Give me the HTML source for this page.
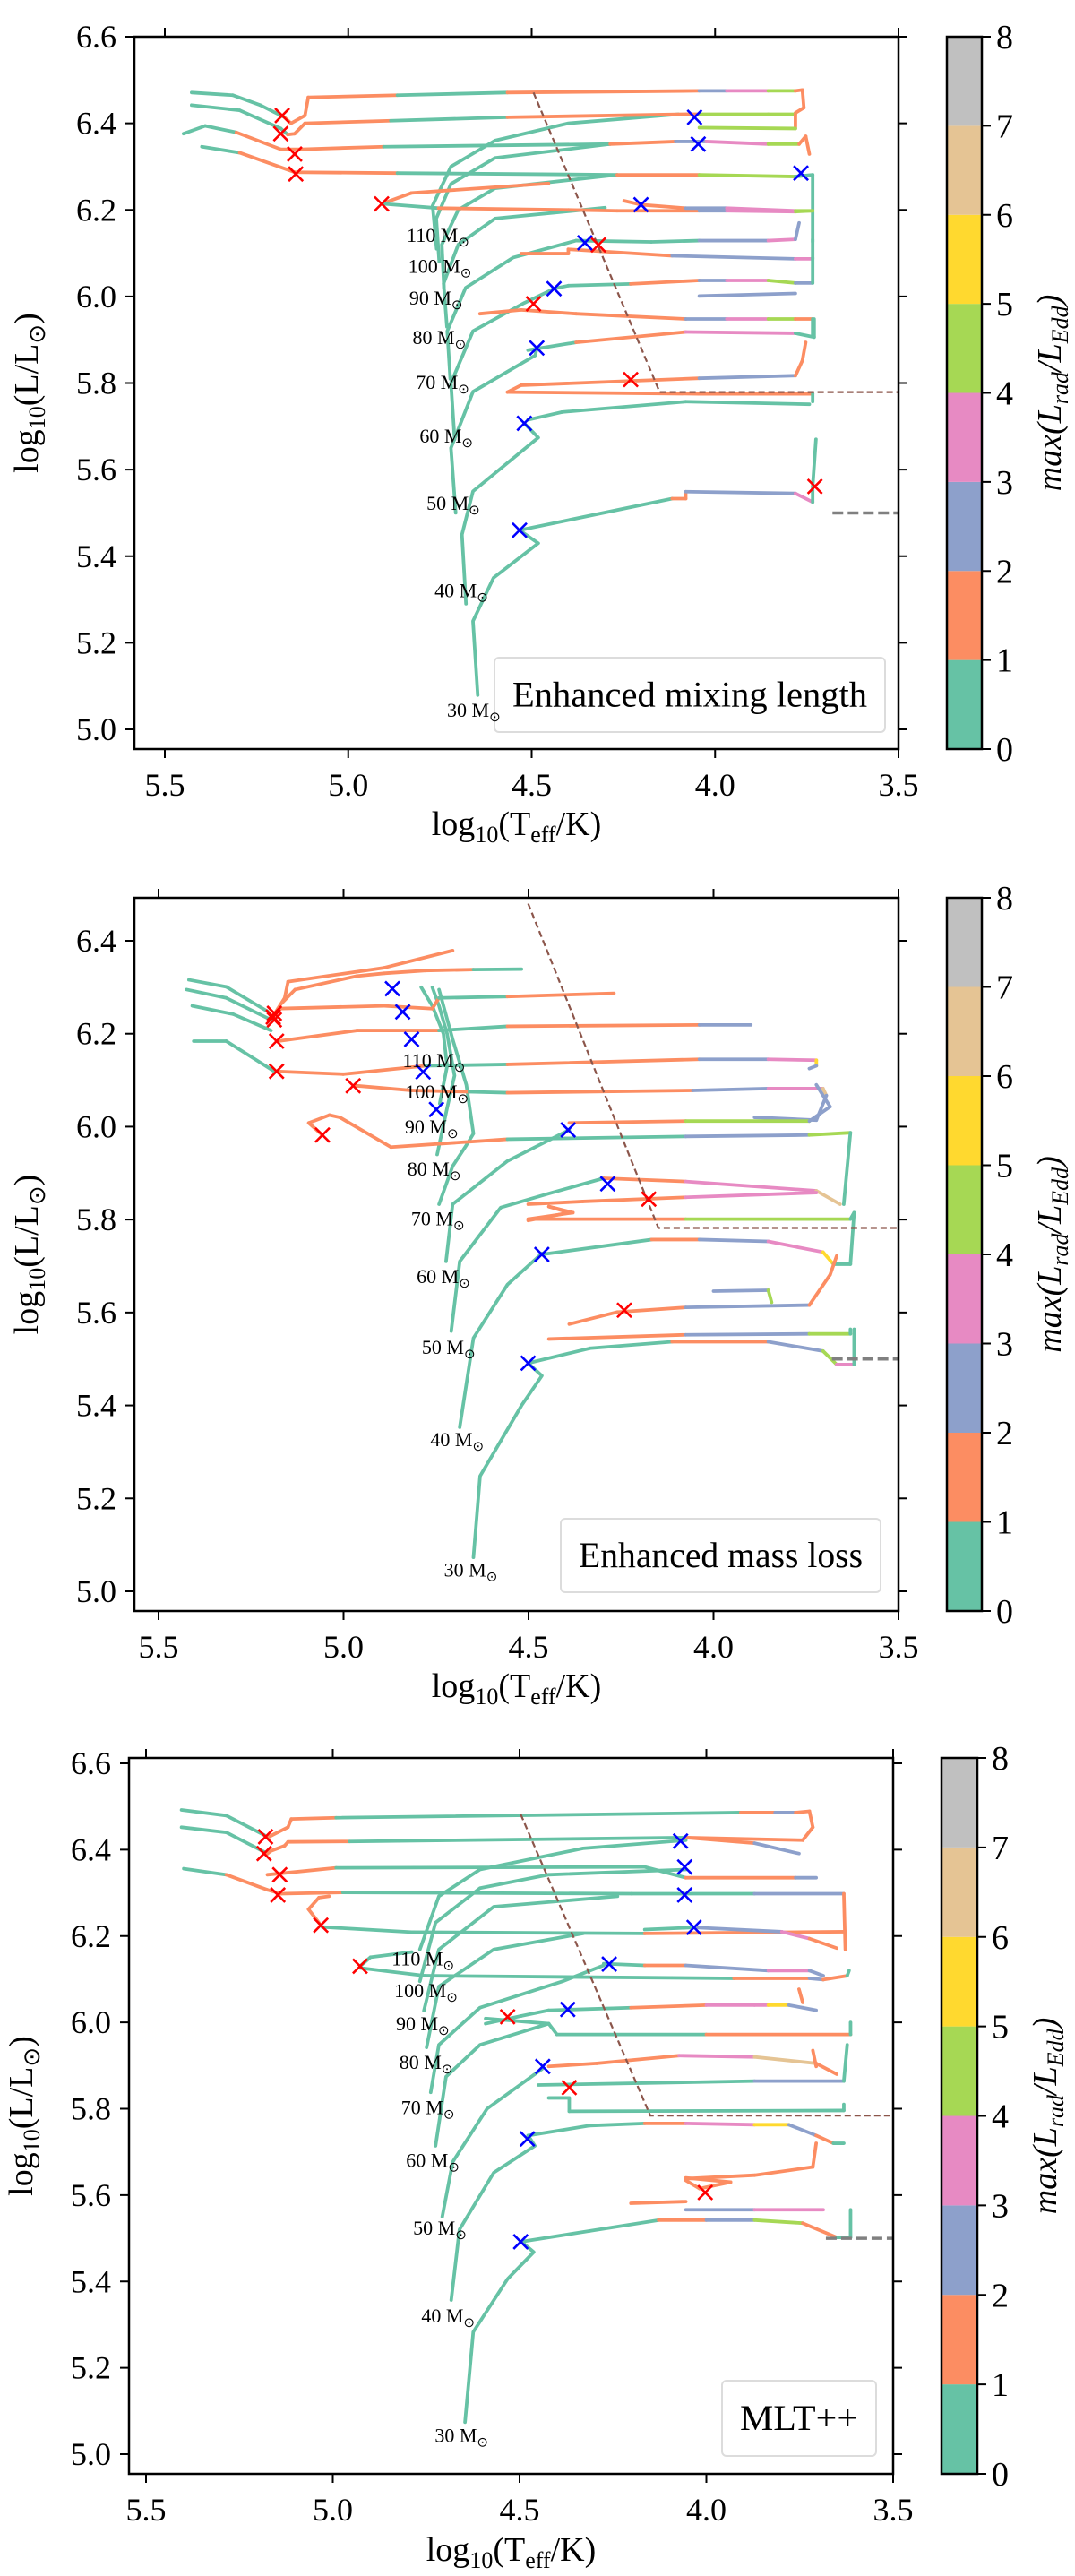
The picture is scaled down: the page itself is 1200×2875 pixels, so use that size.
<!DOCTYPE html>
<html><head><meta charset="utf-8"><style>
html,body{margin:0;padding:0;background:#fff;}
svg{display:block;font-family:"Liberation Serif",serif;}
</style></head><body>
<svg id="fig" width="1200" height="2875" viewBox="0 0 1200 2875" xmlns="http://www.w3.org/2000/svg"></svg>
<script>
const COLORS = ["#66c2a5","#fc8d62","#8da0cb","#e78ac3","#a6d854","#ffd92f","#e5c494","#c0c0c0"];
const CB_TICKS = [0,1,2,3,4,5,6,7,8];
const X_TICKS = [5.5,5.0,4.5,4.0,3.5];
const MASS_NAMES = ["110","100","90","80","70","60","50","40","30"];
const P1_Y_TICKS = [5.0,5.2,5.4,5.6,5.8,6.0,6.2,6.4,6.6];
const P2_Y_TICKS = [5.0,5.2,5.4,5.6,5.8,6.0,6.2,6.4];
const P3_Y_TICKS = [5.0,5.2,5.4,5.6,5.8,6.0,6.2,6.4,6.6];

/* ---------- Panel 1: Enhanced mixing length ---------- */
const P1_TRACK_T = [
[5.427,5.315,5.24,5.174,5.156,5.118,5.109,4.866,4.566,4.043,3.968,3.855,3.781,3.762,3.758,3.781],
[5.427,5.296,5.184,5.165,5.146,5.118,4.884,4.566,4.08,4.043,3.855,3.781,3.781,4.043],
[5.449,5.39,5.305,5.184,5.128,4.903,4.286,4.108,4.024,3.855,3.771,3.753,3.743],
[5.399,5.296,5.146,4.866,4.267,4.043,3.781,3.734,3.734],
[4.909,4.828,4.454],
[4.903,4.754,4.4,4.267,4.043,3.968,3.781,3.734],
[4.248,4.202,4.08,3.968,3.781,3.734],
[4.379,4.174,4.043,3.855,3.781,3.771],
[4.529,4.4,4.4,4.117,3.781,3.734,3.734],
[4.439,4.4,4.23,4.043,3.968,3.855,3.781,3.734,3.734],
[4.043,3.781],
[4.641,4.529,4.379,4.08,3.968,3.855,3.781,3.734,3.734],
[4.51,4.379,4.08,3.781,3.73,3.73],
[4.566,4.529,4.043,3.781,3.762,3.753],
[4.566,4.043,3.734,3.734],
[4.51,4.417,4.08,3.743],
[4.533,4.117,4.08,4.08,3.781,3.734,3.734,3.725]];
const P1_TRACK_L = [
[6.471,6.465,6.442,6.414,6.4,6.418,6.46,6.465,6.471,6.475,6.475,6.475,6.475,6.477,6.436,6.424],
[6.442,6.43,6.388,6.374,6.376,6.4,6.406,6.414,6.421,6.421,6.421,6.421,6.388,6.390],
[6.376,6.394,6.379,6.340,6.340,6.346,6.352,6.358,6.358,6.352,6.352,6.37,6.329],
[6.346,6.332,6.287,6.285,6.281,6.281,6.277,6.281,6.126],
[6.214,6.239,6.261],
[6.214,6.204,6.2,6.198,6.198,6.198,6.196,6.198],
[6.221,6.212,6.204,6.204,6.198,6.198],
[6.129,6.126,6.129,6.129,6.132,6.17],
[6.099,6.099,6.109,6.094,6.087,6.087,6.132],
[6.018,6.025,6.029,6.037,6.037,6.037,6.031,6.031,6.09],
[6.001,6.007],
[5.96,5.969,5.96,5.948,5.948,5.948,5.948,5.948,5.91],
[5.876,5.894,5.918,5.915,5.906,5.948],
[5.779,5.795,5.811,5.817,5.852,5.894],
[5.779,5.775,5.775,5.757],
[5.715,5.733,5.757,5.751],
[5.46,5.533,5.533,5.549,5.545,5.525,5.561,5.67]];
const P1_TRACK_C = [
[0,0,0,1,1,1,1,0,1,2,3,4,1,1,1],
[0,0,0,1,1,1,0,1,1,4,4,1,4],
[0,0,1,1,1,0,1,2,3,4,1,1],
[0,1,1,0,1,4,0,0],
[1,1],
[0,1,1,1,2,3,4],
[1,1,2,3,4],
[0,0,2,3,2],
[1,1,1,2,3,0],
[0,0,1,2,3,4,2,0],
[2],
[1,1,1,2,3,4,1,0],
[0,1,3,0,0],
[1,1,2,1,1],
[1,1,0],
[0,0,0],
[0,1,1,2,3,0,0]];
const P1_MS_T = [
[4.647,4.66,4.604,4.482,4.533],
[4.679,4.69,4.66,4.482,4.52],
[4.707,4.72,4.66,4.49,4.486],
[4.71,4.72,4.66,4.52,4.439],
[4.722,4.73,4.68,4.55,4.379],
[4.731,4.74,4.70,4.60,4.30],
[4.739,4.745,4.70,4.60,4.267],
[4.752,4.76,4.72,4.60,4.286],
[4.759,4.77,4.72,4.60,4.40,4.10]];
const P1_MS_L = [
[5.079,5.25,5.35,5.43,5.46],
[5.29,5.45,5.55,5.674,5.707],
[5.50,5.65,5.78,5.864,5.881],
[5.67,5.80,5.92,5.985,6.018],
[5.81,5.92,6.02,6.09,6.129],
[5.93,6.03,6.12,6.18,6.205],
[6.02,6.12,6.20,6.25,6.281],
[6.08,6.18,6.26,6.32,6.352],
[6.11,6.21,6.30,6.36,6.40,6.421]];
const P1_RED_T = [5.18,5.184,5.146,5.143,4.909,4.318,4.495,4.23,3.728];
const P1_RED_L = [6.418,6.376,6.329,6.283,6.214,6.119,5.983,5.808,5.561];
const P1_BLUE_T = [4.056,4.046,3.766,4.202,4.355,4.439,4.486,4.52,4.533];
const P1_BLUE_L = [6.414,6.352,6.285,6.212,6.124,6.018,5.881,5.707,5.46];
const P1_LABEL_T = [4.67,4.664,4.688,4.679,4.67,4.66,4.641,4.619,4.585];
const P1_LABEL_L = [6.126,6.055,5.981,5.890,5.787,5.662,5.507,5.305,5.029];
const P1_DASH_T = [4.495,4.151,3.5];
const P1_DASH_L = [6.471,5.779,5.779];

/* ---------- Panel 2: Enhanced mass loss ---------- */
const P2_TRACK_T = [
[5.418,5.317,5.205],
[5.424,5.317,5.196],
[5.409,5.298,5.196],
[5.405,5.317,5.187],
[5.187,5.159,5.150,4.890,4.705],
[5.168,5.131,4.964,4.890,4.779,4.649,4.519],
[5.177,4.890,4.760,4.742,4.557,4.269],
[5.177,4.964,4.742,4.557,4.038,3.899],
[5.181,5.001,4.779,4.557,4.038,3.852,3.722,3.722,3.741],
[4.964,4.816,4.66,4.557,4.056,3.852,3.704,3.695,3.722,3.889],
[5.057,5.094,5.038,5.01,4.872,4.557,4.075,3.741,3.630,3.648],
[4.390,4.075,3.741,3.685,3.722],
[4.297,4.075,3.722,3.658],
[4.501,4.353,4.075,3.722],
[4.501,4.390,4.445,4.38,4.501,4.075,3.630,3.620,3.630],
[4.464,4.167,4.038,3.852,3.704,3.676,3.630],
[4.000,3.852,3.843],
[4.39,4.26,4.075,3.741,3.685,3.667],
[4.445,4.075,3.741,3.630,3.630],
[4.501,4.334,4.112,3.852,3.704,3.667,3.620,3.620]];
const P2_TRACK_L = [
[6.316,6.301,6.248],
[6.295,6.277,6.230],
[6.260,6.242,6.207],
[6.184,6.184,6.119],
[6.242,6.277,6.312,6.342,6.379],
[6.265,6.295,6.324,6.330,6.336,6.338,6.339],
[6.254,6.26,6.254,6.277,6.280,6.287],
[6.184,6.207,6.207,6.216,6.219,6.219],
[6.119,6.113,6.131,6.134,6.145,6.145,6.143,6.131,6.125],
[6.088,6.078,6.075,6.073,6.078,6.082,6.082,6.067,6.014,6.02],
[5.982,6.008,6.025,6.020,5.956,5.973,5.979,5.982,5.987,5.833],
[6.008,6.012,6.012,6.043,6.090],
[5.889,5.882,5.862,5.833],
[5.833,5.839,5.848,5.858],
[5.798,5.815,5.828,5.815,5.801,5.801,5.801,5.815,5.704],
[5.725,5.757,5.757,5.753,5.730,5.704,5.704],
[5.646,5.648,5.622],
[5.575,5.601,5.611,5.616,5.681,5.722],
[5.543,5.552,5.554,5.554,5.564],
[5.491,5.523,5.537,5.537,5.517,5.488,5.488,5.564]];
const P2_TRACK_C = [
[0,0],[0,0],[0,0],[0,0],
[1,1,1,1],
[1,1,1,1,1,0],
[1,1,1,0,1],
[1,1,0,1,2],
[1,1,0,1,2,3,5,2],
[1,1,0,1,2,3,6,2,2],
[1,1,1,1,1,0,2,4,0],
[1,4,2,2],
[1,3,6],
[1,1,3],
[1,1,1,1,1,4,0,0],
[0,1,2,3,5,0],
[2,4],
[1,1,2,1,1],
[1,2,4,0],
[0,0,1,2,4,3,0]];
const P2_MS_T = [
[4.649,4.631,4.519,4.464,4.501],
[4.686,4.649,4.557,4.464],
[4.709,4.686,4.575,4.445,4.297],
[4.723,4.705,4.557,4.390],
[4.742,4.705,4.668,4.649,4.668,4.705,4.742],
[4.747,4.72,4.70,4.72,4.742,4.760],
[4.74,4.72,4.73,4.76,4.79]];
const P2_MS_L = [
[5.073,5.248,5.40,5.464,5.491],
[5.353,5.545,5.66,5.727],
[5.560,5.71,5.826,5.856,5.889],
[5.71,5.833,5.926,5.993],
[5.833,5.915,5.96,5.985,6.090,6.188,6.295],
[5.94,6.04,6.11,6.2,6.26,6.30],
[6.05,6.13,6.20,6.26,6.30]];
const P2_RED_T = [5.187,5.19,5.187,5.181,5.181,4.974,5.057,4.241,4.175];
const P2_RED_L = [6.244,6.236,6.230,6.184,6.119,6.088,5.982,5.605,5.844];
const P2_BLUE_T = [4.868,4.840,4.816,4.785,4.749,4.393,4.286,4.464,4.501];
const P2_BLUE_L = [6.297,6.247,6.188,6.118,6.037,5.993,5.877,5.725,5.491];
const P2_LABEL_T = [4.671,4.662,4.69,4.683,4.673,4.658,4.644,4.621,4.584];
const P2_LABEL_L = [6.128,6.061,5.985,5.895,5.788,5.663,5.511,5.312,5.032];
const P2_DASH_T = [4.501,4.149,3.5];
const P2_DASH_L = [6.48,5.782,5.782];

/* ---------- Panel 3: MLT++ ---------- */
const P3_TRACK_T = [
[5.405,5.285,5.184,5.175,5.12,5.111,4.991,3.908,3.816,3.761,3.724,3.715,3.742,4.055],
[5.405,5.285,5.175,5.166,5.129,5.120,4.955,4.055,3.871,3.752],
[5.399,5.285,5.175,5.138,4.973,4.2,3.871,3.632,3.628],
[5.175,4.991,4.165,4.055,3.761,3.706],
[5.032,5.065,5.037,5.010],
[5.028,4.789,4.165,3.628],
[4.165,4.033,3.798,3.724,3.651],
[4.927,4.899,4.789],
[4.927,4.753,3.926,3.724,3.687,3.623,3.618],
[4.275,4.165,4.055,3.834,3.724,3.687],
[4.591,4.495,4.422,4.202,4.0,3.871,3.834,3.779,3.742,3.706],
[3.752,3.742],
[4.591,4.422,4.4,4.0,3.614,3.614],
[4.422,4.293,4.073,3.871,3.706,3.651],
[3.715,3.706],
[4.450,3.871,3.632,3.623],
[4.422,4.367,4.367,3.632,3.632],
[4.477,4.312,4.165,4.055,3.871,3.779,3.706,3.66,3.632],
[4.055,3.935,4.018,4.055],
[4.202,4.055],
[4.055,3.871,3.687],
[3.706,3.715,3.871,4.055],
[4.495,4.312,4.128,4.0,3.871,3.742,3.651,3.614,3.614]];
const P3_TRACK_L = [
[6.492,6.479,6.434,6.428,6.452,6.471,6.474,6.486,6.486,6.486,6.489,6.452,6.422,6.428],
[6.452,6.440,6.391,6.397,6.409,6.418,6.419,6.428,6.415,6.391],
[6.356,6.342,6.307,6.298,6.301,6.298,6.298,6.298,6.169],
[6.342,6.358,6.36,6.335,6.335,6.335],
[6.225,6.262,6.289,6.292],
[6.221,6.209,6.206,6.21],
[6.215,6.22,6.21,6.194,6.172],
[6.13,6.151,6.163],
[6.126,6.108,6.102,6.102,6.099,6.108,6.12],
[6.136,6.132,6.132,6.12,6.120,6.108],
[5.997,6.015,6.028,6.034,6.040,6.040,6.040,6.040,6.034,6.028],
[6.077,6.046],
[6.009,5.997,5.972,5.972,5.972,6.0],
[5.898,5.905,5.923,5.92,5.905,5.88],
[5.935,5.898],
[5.855,5.864,5.864,5.948],
[5.825,5.825,5.794,5.796,5.81],
[5.738,5.761,5.766,5.766,5.763,5.763,5.738,5.72,5.72],
[5.640,5.630,5.615,5.634],
[5.581,5.585],
[5.566,5.566,5.566],
[5.72,5.665,5.646,5.638],
[5.492,5.517,5.542,5.542,5.542,5.535,5.502,5.502,5.566]];
const P3_TRACK_C = [
[0,0,0,1,1,1,0,1,2,1,1,1,1],
[0,0,1,1,1,1,0,1,2],
[0,1,1,1,0,0,2,1],
[1,0,0,1,2],
[1,1,1],
[0,0,1],
[0,2,3,1],
[0,0],
[0,0,1,2,1,0],
[0,1,2,3,2],
[0,0,0,1,3,3,5,2,2],
[1],
[0,0,0,1,0],
[1,1,3,6,1],
[1],
[0,2,0],
[0,0,0,0],
[0,0,1,3,5,2,1,0],
[1,1,1],
[1],
[2,3],
[1,1,1],
[0,0,1,2,4,1,0,0]];
const P3_MS_T = [
[4.646,4.624,4.532,4.462,4.495],
[4.683,4.661,4.569,4.459,4.477],
[4.707,4.679,4.587,4.44],
[4.725,4.697,4.606,4.422],
[4.738,4.716,4.606,4.385,4.275],
[4.749,4.716,4.569,4.330],
[4.756,4.716,4.569,4.238],
[4.767,4.725,4.606,4.422,4.055],
[4.767,4.716,4.606,4.330,4.055]];
const P3_MS_L = [
[5.074,5.283,5.406,5.468,5.492],
[5.357,5.52,5.652,5.714,5.738],
[5.55,5.677,5.80,5.892],
[5.714,5.874,5.948,5.997],
[5.838,5.948,6.034,6.095,6.132],
[5.942,6.083,6.169,6.206],
[6.027,6.169,6.268,6.292],
[6.095,6.231,6.311,6.342,6.354],
[6.169,6.292,6.354,6.403,6.422]];
const P3_RED_T = [5.180,5.184,5.142,5.147,5.032,4.927,4.532,4.367,4.003];
const P3_RED_L = [6.43,6.391,6.342,6.295,6.225,6.13,6.013,5.849,5.606];
const P3_BLUE_T = [4.069,4.058,4.058,4.033,4.26,4.371,4.438,4.479,4.497];
const P3_BLUE_L = [6.42,6.36,6.295,6.22,6.135,6.03,5.898,5.73,5.492];
const P3_LABEL_T = [4.675,4.666,4.688,4.679,4.674,4.661,4.642,4.62,4.584];
const P3_LABEL_L = [6.132,6.058,5.982,5.892,5.788,5.665,5.508,5.305,5.028];
const P3_DASH_T = [4.497,4.15,3.5];
const P3_DASH_L = [6.482,5.784,5.784];

const GRAY_DASH_T = [3.68,3.5];
const GRAY_DASH_L = 5.5;

const NS = "http://www.w3.org/2000/svg";
const svg = document.getElementById("fig");
function mk(tag, attrs, parent){
  const e = document.createElementNS(NS, tag);
  for (const k in attrs) e.setAttribute(k, attrs[k]);
  (parent||svg).appendChild(e);
  return e;
}
function linScale(d0,d1,r0,r1){ return v => r0 + (v-d0)/(d1-d0)*(r1-r0); }

const panels = [
 {id:"p1", box:[150,41,1003,836], xs:linScale(5.5,3.5,184,1003), ys:linScale(6.6,5.0,41,814),
  yTicks:P1_Y_TICKS, T:P1_TRACK_T, L:P1_TRACK_L, C:P1_TRACK_C, msT:P1_MS_T, msL:P1_MS_L,
  rT:P1_RED_T, rL:P1_RED_L, bT:P1_BLUE_T, bL:P1_BLUE_L, labT:P1_LABEL_T, labL:P1_LABEL_L,
  dT:P1_DASH_T, dL:P1_DASH_L, cb:[1057,41,1096,836], legend:[552,734,988,817,"Enhanced mixing length"], xlab:932},
 {id:"p2", box:[150,1002,1003,1798], xs:linScale(5.5,3.5,177,1003), ys:linScale(6.4,5.0,1050,1776),
  yTicks:P2_Y_TICKS, T:P2_TRACK_T, L:P2_TRACK_L, C:P2_TRACK_C, msT:P2_MS_T, msL:P2_MS_L,
  rT:P2_RED_T, rL:P2_RED_L, bT:P2_BLUE_T, bL:P2_BLUE_L, labT:P2_LABEL_T, labL:P2_LABEL_L,
  dT:P2_DASH_T, dL:P2_DASH_L, cb:[1057,1002,1096,1798], legend:[626,1695,983,1777,"Enhanced mass loss"], xlab:1894},
 {id:"p3", box:[144,1962,997,2761], xs:linScale(5.5,3.5,163,997), ys:linScale(6.6,5.0,1968,2739),
  yTicks:P3_Y_TICKS, T:P3_TRACK_T, L:P3_TRACK_L, C:P3_TRACK_C, msT:P3_MS_T, msL:P3_MS_L,
  rT:P3_RED_T, rL:P3_RED_L, bT:P3_BLUE_T, bL:P3_BLUE_L, labT:P3_LABEL_T, labL:P3_LABEL_L,
  dT:P3_DASH_T, dL:P3_DASH_L, cb:[1051,1962,1091,2761], legend:[806,2657,978,2741,"MLT++"], xlab:2858}
];

panels.forEach((p, pi) => {
  const g = mk("g", {});
  
  
  const [x0,y0,x1,y1] = p.box;
  const clipId = "clip"+pi;
  const cp = mk("clipPath",{id:clipId}, g);
  mk("rect",{x:x0,y:y0,width:x1-x0,height:y1-y0}, cp);
  const plot = mk("g",{"clip-path":"url(#"+clipId+")"}, g);
  
  

  const lg = p.legend;
  const legBox = mk("rect",{x:lg[0],y:lg[1],width:lg[2]-lg[0],height:lg[3]-lg[1],rx:5,fill:"#fff",stroke:"#dcdcdc","stroke-width":2}, plot);
  
  
  const legText = mk("text",{x:(lg[0]+lg[2])/2,y:(lg[1]+lg[3])/2+13,"text-anchor":"middle","font-size":40,
    textLength:(lg[2]-lg[0]-40),lengthAdjust:"spacingAndGlyphs"}, plot);
  legText.textContent = lg[4];
  
  

  p.msT.forEach((ts, i) => {
    const pts = ts.map((t,k)=>p.xs(t).toFixed(1)+","+p.ys(p.msL[i][k]).toFixed(1)).join(" ");
    const pl = mk("polyline",{points:pts,fill:"none",stroke:COLORS[0],"stroke-width":3.8,"stroke-linejoin":"round","stroke-linecap":"round"}, plot);
    
    
  });
  p.T.forEach((ts, i) => {
    const tg = mk("g",{}, plot);
    
    
    for (let k=0;k<ts.length-1;k++){
      const ci = (p.C[i][k] !== undefined) ? p.C[i][k] : 0;
      const ln = mk("line",{x1:p.xs(ts[k]),y1:p.ys(p.L[i][k]),x2:p.xs(ts[k+1]),y2:p.ys(p.L[i][k+1]),stroke:COLORS[ci],"stroke-width":3.8,"stroke-linecap":"round"}, tg);
      
      
    }
  });
  const dpts = p.dT.map((t,k)=>p.xs(t)+","+p.ys(p.dL[k])).join(" ");
  const hd = mk("polyline",{points:dpts,fill:"none",stroke:"#8c564b","stroke-width":2.2,"stroke-dasharray":"7,4"}, plot);
  
  
  const gd = mk("line",{x1:p.xs(GRAY_DASH_T[0]),y1:p.ys(GRAY_DASH_L),x2:p.xs(GRAY_DASH_T[1]),y2:p.ys(GRAY_DASH_L),stroke:"#808080","stroke-width":3.5,"stroke-dasharray":"12,5"}, plot);
  
  

  function cross(t,l,color,name){
    const cx=p.xs(t), cy=p.ys(l), s=8;
    const pa = mk("path",{d:`M${cx-s},${cy-s}L${cx+s},${cy+s}M${cx-s},${cy+s}L${cx+s},${cy-s}`,stroke:color,"stroke-width":2.6,fill:"none"}, plot);
    
    
  }
  p.rT.forEach((t,i)=>cross(t,p.rL[i],"#ff0000","red-x-marker"));
  p.bT.forEach((t,i)=>cross(t,p.bL[i],"#0000ff","blue-x-marker"));

  MASS_NAMES.forEach((m,i)=>{
    const tx = mk("text",{x:p.xs(p.labT[i]),y:p.ys(p.labL[i]),"text-anchor":"end","font-size":22}, plot);
    tx.textContent = m + " M";
    const sub = mk("tspan",{"font-size":15,dy:5}, tx);
    sub.textContent = "\u2299";
    
    
  });

  const fr = mk("rect",{x:x0,y:y0,width:x1-x0,height:y1-y0,fill:"none",stroke:"#000","stroke-width":2.5}, g);
  
  

  X_TICKS.forEach(v=>{
    const x = p.xs(v);
    const t1 = mk("line",{x1:x,y1:y1,x2:x,y2:y1+10,stroke:"#000","stroke-width":2}, g);
    
    
    const t2 = mk("line",{x1:x,y1:y0,x2:x,y2:y0-10,stroke:"#000","stroke-width":2}, g);
    
    
    const lb = mk("text",{x:x,y:y1+52,"text-anchor":"middle","font-size":36}, g);
    lb.textContent = v.toFixed(1);
    
    
  });
  p.yTicks.forEach(v=>{
    const y = p.ys(v);
    const t1 = mk("line",{x1:x0,y1:y,x2:x0-10,y2:y,stroke:"#000","stroke-width":2}, g);
    
    
    const t2 = mk("line",{x1:x1,y1:y,x2:x1+10,y2:y,stroke:"#000","stroke-width":2}, g);
    
    
    const lb = mk("text",{x:x0-20,y:y+12,"text-anchor":"end","font-size":36}, g);
    lb.textContent = v.toFixed(1);
    
    
  });
  const yt = mk("text",{transform:`translate(${x0-108},${(y0+y1)/2}) rotate(-90)`,"text-anchor":"middle","font-size":38}, g);
  yt.textContent = "log";
  const ys1 = mk("tspan",{"font-size":26,dy:8}, yt); ys1.textContent="10";
  const ys2 = mk("tspan",{dy:-8}, yt); ys2.textContent="(L/L";
  const ys3 = mk("tspan",{"font-size":26,dy:8}, yt); ys3.textContent="\u2299";
  const ys4 = mk("tspan",{dy:-8}, yt); ys4.textContent=")";
  
  

  const xt = mk("text",{x:(x0+x1)/2,y:p.xlab,"text-anchor":"middle","font-size":38}, g);
  xt.textContent = "log";
  const xs1 = mk("tspan",{"font-size":26,dy:8}, xt); xs1.textContent="10";
  const xs2 = mk("tspan",{dy:-8}, xt); xs2.textContent="(T";
  const xs3 = mk("tspan",{"font-size":26,dy:8}, xt); xs3.textContent="eff";
  const xs4 = mk("tspan",{dy:-8}, xt); xs4.textContent="/K)";
  
  

  const [cx0,cy0,cx1,cy1] = p.cb;
  const cbs = linScale(0,8,cy1,cy0);
  const cbg = mk("g",{}, g);
  
  
  for (let k=0;k<8;k++){
    const r = mk("rect",{x:cx0,y:cbs(k+1),width:cx1-cx0,height:cbs(k)-cbs(k+1),fill:COLORS[k]}, cbg);
    
    
  }
  mk("rect",{x:cx0,y:cy0,width:cx1-cx0,height:cy1-cy0,fill:"none",stroke:"#000","stroke-width":2.5}, cbg);
  CB_TICKS.forEach(v=>{
    const y = cbs(v);
    const tk = mk("line",{x1:cx1,y1:y,x2:cx1+10,y2:y,stroke:"#000","stroke-width":2}, cbg);
    
    
    const lb = mk("text",{x:cx1+16,y:y+13,"font-size":38}, cbg);
    lb.textContent = String(v);
    
    
  });
  const ct = mk("text",{transform:`translate(${cx1+88},${(cy0+cy1)/2}) rotate(-90)`,"text-anchor":"middle","font-size":38,"font-style":"italic"}, cbg);
  ct.textContent = "max(L";
  const c1 = mk("tspan",{"font-size":26,dy:8}, ct); c1.textContent="rad";
  const c2 = mk("tspan",{dy:-8}, ct); c2.textContent="/L";
  const c3 = mk("tspan",{"font-size":26,dy:8}, ct); c3.textContent="Edd";
  const c4 = mk("tspan",{dy:-8}, ct); c4.textContent=")";
  
  
});
</script>
</body></html>
